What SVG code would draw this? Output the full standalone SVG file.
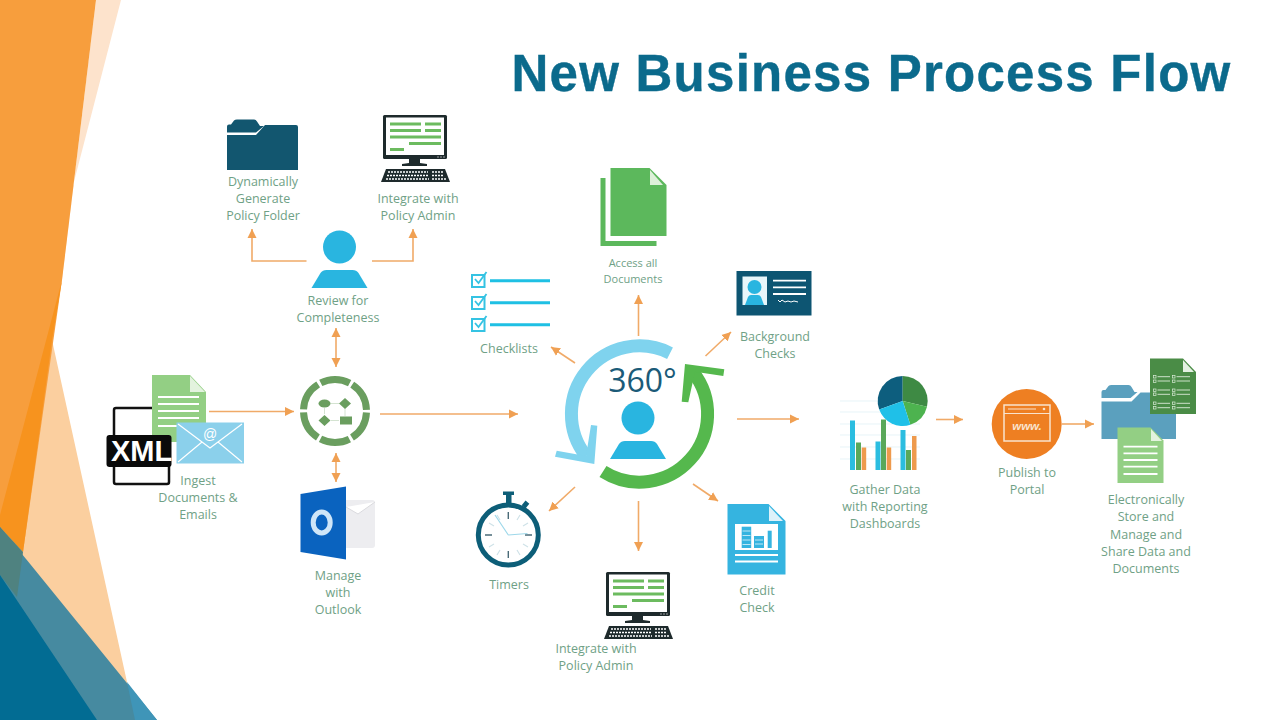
<svg xmlns="http://www.w3.org/2000/svg" xmlns:xlink="http://www.w3.org/1999/xlink" width="1280" height="720" viewBox="0 0 1280 720">
<style>
.lb{font-family:"Open Sans","Noto Sans","Liberation Sans",sans-serif;font-size:12.5px;fill:#6FA186;text-anchor:middle}
.sm{font-size:11px}
.cn{fill:none;stroke:#F0AA68;stroke-width:1.6}
.wl{stroke:#fff;stroke-width:1.8;fill:none}
</style>
<defs>
<marker id="ah" markerUnits="userSpaceOnUse" markerWidth="10" markerHeight="10" refX="9" refY="5" orient="auto-start-reverse"><path d="M0 .5L9 5L0 9.5z" fill="#F0A053"/></marker>
<g id="pc">
<rect x="383" y="115" width="64" height="44" rx="1.5" fill="#1E2A2C"/>
<rect x="386" y="117.500" width="58" height="37.500" fill="#fff"/>
<g fill="#6CBB5F"><rect x="390" y="122.500" width="31" height="3"/><rect x="425" y="122.500" width="16" height="3"/><rect x="390" y="129" width="31" height="3"/><rect x="425" y="129" width="16" height="3"/><rect x="390" y="135.500" width="51" height="3"/><rect x="409" y="142" width="32" height="3"/><rect x="390" y="148" width="14" height="3"/></g>
<circle cx="438" cy="157" r=".7" fill="#ccc"/><circle cx="441" cy="157" r=".7" fill="#ccc"/><circle cx="444" cy="157" r=".7" fill="#ccc"/>
<path d="M409 159h11v4l7 1v2h-25v-2l7-1z" fill="#1E2A2C"/>
<path d="M386 169h59l5 13h-69z" fill="#1E2A2C"/>
<path d="M388 172h40M387 175.500h41M386 179h43M432 172h11M432 175.500h12M432 179h14" stroke="#fff" stroke-width="1.600" stroke-dasharray="2 1" fill="none"/>
</g>
<g id="person"><circle cx="0" cy="0" r="16.500" fill="#29B5E0"/><path d="M-13 23h26q4 0 6 3l9 15h-56l9-15q2-3 6-3z" fill="#29B5E0"/></g>
</defs>
<rect id="background" width="1280" height="720" fill="#FFFFFF"/>
<g id="decor">
<path d="M96 0H121L68 205L52 340L62 280z" fill="#FDE3CC"/>
<path d="M52 340L127 682L135 720H0V500L23 550z" fill="#FBCF9F"/>
<path d="M0 0H96L62 280L23 552L0 527z" fill="#F79E3D"/>
<path d="M62 280L52 340L23 552L0 527V515z" fill="#F7931E"/>
<path d="M0 527L157 720H0z" fill="#468AA0"/>
<path d="M0 527L23 552L17 597L0 575z" fill="#4F8280"/>
<path d="M0 575L97 720H0z" fill="#026C93"/>
<path d="M127 682L157 720H135z" fill="#3F95B8"/>
</g>
<text id="title" x="871.500" y="91" text-anchor="middle" font-family="Liberation Sans, Arial, sans-serif" font-weight="700" font-size="51" letter-spacing="1.250" fill="#0B6A8C" stroke="#0B6A8C" stroke-width=".4">New Business Process Flow</text>
<g id="connectors">
<polyline class="cn" points="306.500,261 252,261 252,229" marker-end="url(#ah)"/>
<polyline class="cn" points="372,261 413,261 413,229" marker-end="url(#ah)"/>
<line class="cn" x1="336" y1="328" x2="336" y2="367" marker-start="url(#ah)" marker-end="url(#ah)"/>
<line class="cn" x1="336" y1="453" x2="336" y2="482" marker-start="url(#ah)" marker-end="url(#ah)"/>
<line class="cn" x1="209" y1="411.500" x2="294" y2="411.500" marker-end="url(#ah)"/>
<line class="cn" x1="380" y1="414" x2="518" y2="414" marker-end="url(#ah)"/>
<line class="cn" x1="638.500" y1="336" x2="638.500" y2="295" marker-end="url(#ah)"/>
<line class="cn" x1="575" y1="363" x2="551" y2="347" marker-end="url(#ah)"/>
<line class="cn" x1="705.500" y1="356" x2="731" y2="332" marker-end="url(#ah)"/>
<line class="cn" x1="737" y1="419" x2="799" y2="419" marker-end="url(#ah)"/>
<line class="cn" x1="575" y1="487" x2="549" y2="511" marker-end="url(#ah)"/>
<line class="cn" x1="638.500" y1="501" x2="638.500" y2="551" marker-end="url(#ah)"/>
<line class="cn" x1="693" y1="484" x2="718" y2="501" marker-end="url(#ah)"/>
<line class="cn" x1="936" y1="419.500" x2="963" y2="419.500" marker-end="url(#ah)"/>
<line class="cn" x1="1062" y1="424" x2="1094" y2="424" marker-end="url(#ah)"/>
</g>
<g id="node-folder">
<path d="M227 132.500v-6q0-2 2-2h2l3-4q1-1 3-1h17q2 0 3 2l3 4.500h4l-8 6.500z" fill="#12566F"/>
<path d="M227 135h29l9-10h31q2 0 2 2v43h-71z" fill="#12566F"/>
<text class="lb" x="263" y="186">Dynamically</text><text class="lb" x="263" y="203">Generate</text><text class="lb" x="263" y="220">Policy Folder</text>
</g>
<g id="node-admin-top"><use xlink:href="#pc" href="#pc"/>
<text class="lb" x="418" y="203">Integrate with</text><text class="lb" x="418" y="220">Policy Admin</text></g>
<g id="node-review"><use xlink:href="#person" href="#person" transform="translate(339.500 247)"/>
<text class="lb" x="338" y="305">Review for</text><text class="lb" x="338" y="322">Completeness</text></g>
<g id="node-ingest">
<rect x="114" y="408" width="55" height="76" rx="2" fill="#fff" stroke="#111" stroke-width="2.500"/>
<path d="M152 375h38l16 17v50h-54z" fill="#93CF84"/>
<path d="M190 376l15 16h-15z" fill="#E3F3DE"/>
<path class="wl" d="M158 397h41M158 404h41M158 411h41M158 418h41M158 426h41"/>
<rect x="106.500" y="435" width="65" height="32" rx="3" fill="#0A0A0A"/>
<text x="111" y="461" font-family="Liberation Sans, Arial, sans-serif" font-weight="700" font-size="29" fill="#fff">XML</text>
<rect x="176.500" y="422.500" width="67.500" height="41" fill="#8BD0EB"/>
<path d="M178 424l32 24l32-24M178 462l24-20M242 462l-24-20" stroke="#fff" stroke-width="1.200" fill="none"/>
<text x="210" y="439" text-anchor="middle" font-family="Liberation Sans, Arial, sans-serif" font-size="14" fill="#fff">@</text>
<text class="lb" x="198" y="485">Ingest</text><text class="lb" x="198" y="502">Documents &amp;</text><text class="lb" x="198" y="519">Emails</text>
</g>
<g id="node-hub">
<circle cx="335" cy="411" r="31.500" fill="none" stroke="#6A9E5F" stroke-width="7" stroke-dasharray="30 2.980" stroke-dashoffset="-1.500"/>
<ellipse cx="324.500" cy="403.500" rx="6" ry="4" fill="#6A9E5F"/>
<path d="M345 398l6 5.500l-6 5.500l-6-5.500zM324.500 415l6 5.500l-6 5.500l-6-5.500z" fill="#6A9E5F"/>
<rect x="340" y="416.500" width="12" height="8" fill="#6A9E5F"/>
<path d="M331 403.500h8M345 409v7M331 420.500h8M324.500 408v6" stroke="#C9DCC5" stroke-width=".8" fill="none"/>
</g>
<g id="node-outlook">
<path d="M346 500h26q3 0 3 3v42q0 3-3 3h-26z" fill="#EDEDF0"/>
<path d="M346 507l12 7l17-12" fill="#fff" stroke="#DADADE"/>
<path d="M300.500 494L346 486.500V559.500L300.500 552z" fill="#0A63BF"/>
<ellipse cx="321.700" cy="522.500" rx="8.500" ry="10.500" fill="none" stroke="#CFE6F8" stroke-width="5"/>
<text class="lb" x="338" y="580">Manage</text><text class="lb" x="338" y="597">with</text><text class="lb" x="338" y="614">Outlook</text>
</g>
<g id="node-documents">
<path d="M600.500 178h5v63h51v5h-56z" fill="#5CB85C"/>
<path d="M610.500 168h39l17 17v51h-56z" fill="#5CB85C"/>
<path d="M650 170l13 15h-13z" fill="#DDF0D9"/>
<text class="lb sm" x="633" y="267">Access all</text><text class="lb sm" x="633" y="283">Documents</text>
</g>
<g id="node-checklists" fill="none" stroke="#35C3E3">
<path d="M490 280.700h60M490 302.700h60M490 324.700h60" stroke="#1FC0E4" stroke-width="3"/>
<rect x="472" y="275" width="12.500" height="12" stroke-width="2"/><rect x="472" y="297" width="12.500" height="12" stroke-width="2"/><rect x="472" y="319" width="12.500" height="12" stroke-width="2"/>
<path d="M475 279l3.500 4l8-11M475 301l3.500 4l8-11M475 323l3.500 4l8-11" stroke-width="1.800"/>
<text class="lb" x="509" y="353" stroke="none">Checklists</text>
</g>
<g id="node-background">
<rect x="736.500" y="271" width="75" height="44.500" fill="#0D5572"/>
<rect x="742.500" y="276.500" width="24.500" height="28.500" fill="#E8F6FA"/>
<circle cx="754.500" cy="287" r="7" fill="#29B5E0"/><path d="M745 305l3-8q1-2 3-2h7q2 0 3 2l3 8z" fill="#29B5E0"/>
<path class="wl" d="M773 280.700h33M773 287.300h33M773 294h33"/>
<path d="M778 300l2 2l2-2l3 2l3-1l3 1l3-1l4 1" stroke="#fff" stroke-width="1" fill="none"/>
<text class="lb" x="775" y="341">Background</text><text class="lb" x="775" y="358">Checks</text>
</g>
<g id="node-360">
<path d="M670 353.200A68 68 0 0 0 586 456" fill="none" stroke="#7FD3EE" stroke-width="13"/>
<path d="M594.300 464L555 456.700L556.700 450.700L586 456L591 425L597.300 425.700z" fill="#7FD3EE"/>
<path d="M603 471.400A68 68 0 0 0 693 372" fill="none" stroke="#55B84D" stroke-width="13"/>
<path d="M685 364L724.300 369.300L723.300 376L695 371.700L688.300 402.300L681.700 401.700z" fill="#55B84D"/>
<text x="642.500" y="392" text-anchor="middle" font-family="Open Sans, Noto Sans, sans-serif" font-size="32" fill="#1B5B78">360°</text>
<use xlink:href="#person" href="#person" transform="translate(638 418)"/>
</g>
<g id="node-timers">
<rect x="503" y="491.500" width="11" height="3.500" fill="#0D5E78"/><rect x="506" y="495" width="5.500" height="10" fill="#0D5E78"/>
<rect x="523" y="501.500" width="5" height="6" transform="rotate(40 525.500 504.500)" fill="#0D5E78"/>
<circle cx="508.300" cy="535" r="30" fill="#fff" stroke="#0D5E78" stroke-width="5"/>
<path d="M508.300 512v7M508.300 551v7M485 535h7M525 535h7" stroke="#4A6B78" stroke-width="1.400"/>
<path d="M520 515l-3 5M528 523l-5 3M528 547l-5-3M520 555l-3-5M497 555l3-5M489 547l5-3M489 523l5 3M497 515l3 5" stroke="#CFE2E8" stroke-width="1.200"/>
<path d="M508.300 535L495 515M508.300 535L527.500 533.500" stroke="#9ED8EA" stroke-width="1.200" fill="none"/>
<text class="lb" x="509" y="589">Timers</text>
</g>
<g id="node-admin-bottom"><use xlink:href="#pc" href="#pc" transform="translate(223 457)"/>
<text class="lb" x="596" y="653">Integrate with</text><text class="lb" x="596" y="670">Policy Admin</text></g>
<g id="node-credit">
<path d="M727.500 504h41l17 17v53.500h-58z" fill="#35B4E0"/>
<path d="M769 506l14 15h-14z" fill="#DDF2FA"/>
<rect x="735" y="524" width="43" height="26" fill="#fff"/>
<rect x="741.700" y="526.700" width="9.500" height="21.300" fill="#35B4E0"/><rect x="754" y="536" width="10" height="12" fill="#35B4E0"/><rect x="767.700" y="530.700" width="4" height="17.300" fill="#35B4E0"/>
<path d="M742.500 531h8M742.500 535.500h8M742.500 540h8M742.500 544.500h8M755 540h8M755 544h8" stroke="#BDE7F5" stroke-width="1" fill="none"/>
<path class="wl" d="M735 555h43M735 561.500h43"/>
<text class="lb" x="757" y="595">Credit</text><text class="lb" x="757" y="612">Check</text>
</g>
<g id="node-dashboard">
<path d="M840 401h50M840 412h50M840 424h80M840 435h80M840 447h80M840 459h80" stroke="#DCEFF5" stroke-width=".7" fill="none"/>
<g fill="#2BBDE0"><rect x="850" y="420.500" width="5" height="49.500"/><rect x="875.500" y="441.500" width="5" height="28.500"/><rect x="900.500" y="430" width="5" height="40"/></g>
<g fill="#5AA85A"><rect x="856" y="442.500" width="5" height="27.500"/><rect x="881" y="419.500" width="5" height="50.500"/><rect x="906" y="450" width="5" height="20"/></g>
<g fill="#EE9A4D"><rect x="861.700" y="447.500" width="4.500" height="22.500"/><rect x="886.700" y="447.500" width="4.500" height="22.500"/><rect x="912" y="436" width="4.500" height="34"/></g>
<path d="M902.700 401V376A25 25 0 0 0 879.200 409.600z" fill="#0D5E7E"/>
<path d="M902.700 401V376A25 25 0 0 1 927 406.800z" fill="#3E8A44"/>
<path d="M902.700 401L927 406.800A25 25 0 0 1 910.300 424.800z" fill="#4DB34F"/>
<path d="M902.700 401L910.300 424.800A25 25 0 0 1 879.200 409.600z" fill="#1FC0E8"/>
<text class="lb" x="885" y="494">Gather Data</text><text class="lb" x="885" y="511">with Reporting</text><text class="lb" x="885" y="528">Dashboards</text>
</g>
<g id="node-portal">
<circle cx="1026.700" cy="424" r="35" fill="#EE7F22"/>
<rect x="1004" y="405" width="46" height="36" fill="none" stroke="#F9E3CD" stroke-width="1.500"/>
<path d="M1004 413.500h46M1008 409h28" stroke="#F9E3CD" stroke-width="1.200" fill="none"/>
<circle cx="1044" cy="409" r="1.300" fill="#F9E3CD"/>
<text x="1027" y="430" text-anchor="middle" font-family="Liberation Sans, Arial, sans-serif" font-weight="700" font-style="italic" font-size="11.500" fill="#F9E3CD">www.</text>
<text class="lb" x="1027" y="477">Publish to</text><text class="lb" x="1027" y="494">Portal</text>
</g>
<g id="node-store">
<path d="M1101.500 398v-6q0-2 2-2h2l3-4q1-1 3-1h17q2 0 3 2l3 5h3l-7 6z" fill="#5BA0BE"/>
<path d="M1101.500 401.500h30l9-9h35.500v46.500h-74.500z" fill="#5BA0BE"/>
<path d="M1150 358.500h33l13 13.500v42h-46z" fill="#4A8C46"/>
<path d="M1183 360l11 12h-11z" fill="#E4F1E2"/>
<path d="M1157.500 376.700h12.500M1176.500 376.700h13.500M1157.500 381h12.500M1176.500 381h13.500M1157.500 390h12.500M1176.500 390h13.500M1157.500 394.300h12.500M1176.500 394.300h13.500M1157.500 403.300h12.500M1176.500 403.300h13.500M1157.500 407.700h12.500M1176.500 407.700h13.500" stroke="#DCEBD9" stroke-width=".9" fill="none"/>
<g fill="none" stroke="#DCEBD9" stroke-width=".7"><rect x="1153.500" y="375.500" width="2.500" height="2.500"/><rect x="1153.500" y="380" width="2.500" height="2.500"/><rect x="1172.500" y="375.500" width="2.500" height="2.500"/><rect x="1172.500" y="380" width="2.500" height="2.500"/><rect x="1153.500" y="389" width="2.500" height="2.500"/><rect x="1153.500" y="393" width="2.500" height="2.500"/><rect x="1172.500" y="389" width="2.500" height="2.500"/><rect x="1172.500" y="393" width="2.500" height="2.500"/><rect x="1153.500" y="402" width="2.500" height="2.500"/><rect x="1153.500" y="406.500" width="2.500" height="2.500"/><rect x="1172.500" y="402" width="2.500" height="2.500"/><rect x="1172.500" y="406.500" width="2.500" height="2.500"/></g>
<path d="M1117.500 427.500h33l13 13v42.500h-46z" fill="#93CF84"/>
<path d="M1151 429l11 12h-11z" fill="#E3F3DE"/>
<path class="wl" d="M1123.500 446.700h34M1123.500 453.300h34M1123.500 460h34M1123.500 466.700h34M1123.500 474h34"/>
<text class="lb" x="1146" y="504">Electronically</text><text class="lb" x="1146" y="521">Store and</text><text class="lb" x="1146" y="539">Manage and</text><text class="lb" x="1146" y="556">Share Data and</text><text class="lb" x="1146" y="573">Documents</text>
</g>
</svg>
